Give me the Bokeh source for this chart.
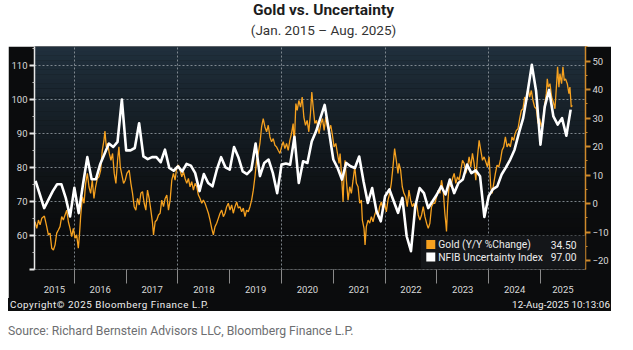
import pandas as pd
from bokeh.plotting import figure
from bokeh.models import (Range1d, LinearAxis, FixedTicker, Grid, BoxAnnotation,
                          CustomJSTickFormatter, Label, Div)
from bokeh.layouts import column
from bokeh.embed import file_html
from bokeh.resources import INLINE

# ---------------- data ----------------
# NFIB Uncertainty Index, monthly (plotted at month end), Mar 2015 .. Jul 2025
nfib_months = [str(p) for p in pd.period_range("2015-03", "2025-07", freq="M")]
nfib_index = [
    76, 72, 68, 70.5, 73, 75, 75, 71, 65.5, 74,
    66.5, 75, 83, 76.5, 76.5, 81, 84, 87, 86, 87.5, 100, 85,
    85, 85.7, 93, 83.2, 82.4, 83, 83, 81.5, 85.2, 79.8, 79, 80.3,
    78.8, 81, 80.5, 78.3, 73, 78, 75.4, 74.4, 79.3, 83, 80, 79.3,
    86, 83, 78.8, 78, 79.3, 87, 77.4, 81.3, 82.3, 78.3, 72.4, 80.8,
    81.1, 80.8, 89, 75.4, 81.8, 81.3, 87.6, 90.6, 94.5, 98.4, 90.6, 82.3,
    79.8, 76.4, 81.3, 80.3, 79.8, 83.2, 75.9, 69.5, 73.9, 67.1, 64.1, 71.5,
    73.5, 70, 66.6, 71, 59.7, 55.3, 68.5, 73.9, 72.4, 68, 70, 72,
    74.4, 72, 76.4, 72.4, 75.4, 76.4, 80.8, 78.3, 79.1, 77.4, 65.4, 71.5,
    73.6, 74.4, 77.9, 80, 82.3, 85.2, 90.1, 94.5, 102, 110.2, 102.4, 86.7,
    97.9, 102.8, 95, 92.6, 94.5, 89.3, 97,
]

# Gold, Y/Y % change (decimal-year dates)
gold_t = [
    2015.241, 2015.274, 2015.306, 2015.338, 2015.370, 2015.421, 2015.466, 2015.498, 2015.530, 2015.563,
    2015.595, 2015.627, 2015.659, 2015.691, 2015.723, 2015.755, 2015.787, 2015.820, 2015.852, 2015.884,
    2015.916, 2015.948, 2015.980, 2016.012, 2016.044, 2016.076, 2016.096, 2016.121, 2016.154, 2016.186,
    2016.218, 2016.250, 2016.282, 2016.314, 2016.346, 2016.378, 2016.410, 2016.443, 2016.475, 2016.507,
    2016.539, 2016.571, 2016.590, 2016.616, 2016.642, 2016.674, 2016.706, 2016.738, 2016.770, 2016.802,
    2016.834, 2016.860, 2016.886, 2016.918, 2016.950, 2016.982, 2017.014,
    2017.059, 2017.091, 2017.123, 2017.155, 2017.187, 2017.220, 2017.252, 2017.284, 2017.316, 2017.348,
    2017.380, 2017.412, 2017.444, 2017.477, 2017.509, 2017.528, 2017.560, 2017.592, 2017.624, 2017.656,
    2017.688, 2017.721, 2017.753, 2017.785, 2017.817, 2017.849, 2017.881, 2017.913, 2017.945, 2017.977,
    2018.010, 2018.042, 2018.074, 2018.106, 2018.138, 2018.170, 2018.202, 2018.234, 2018.266, 2018.299,
    2018.331, 2018.363, 2018.395, 2018.427, 2018.459, 2018.491, 2018.523, 2018.555, 2018.588, 2018.620,
    2018.652, 2018.684, 2018.716, 2018.748, 2018.780, 2018.813, 2018.845,
    2018.877, 2018.909, 2018.941, 2018.973,
    2019.005, 2019.037, 2019.069, 2019.102, 2019.134, 2019.166, 2019.198, 2019.230, 2019.262, 2019.294,
    2019.326, 2019.358, 2019.391, 2019.423, 2019.455, 2019.487, 2019.519, 2019.551, 2019.583, 2019.615,
    2019.647, 2019.680, 2019.712, 2019.744, 2019.776, 2019.808, 2019.840, 2019.872, 2019.904, 2019.936,
    2019.969,
    2020.001, 2020.033, 2020.065, 2020.097, 2020.129, 2020.161, 2020.193, 2020.225, 2020.245, 2020.277,
    2020.303, 2020.335, 2020.367, 2020.399, 2020.431, 2020.463, 2020.495, 2020.527, 2020.559, 2020.585,
    2020.611, 2020.643, 2020.675, 2020.707,
    2020.726, 2020.759, 2020.791, 2020.823, 2020.855, 2020.887, 2020.919, 2020.951, 2020.983,
    2021.015, 2021.048, 2021.080, 2021.112, 2021.131, 2021.157, 2021.189, 2021.208, 2021.227, 2021.253,
    2021.285, 2021.317, 2021.349, 2021.382, 2021.414, 2021.446, 2021.478, 2021.510, 2021.542, 2021.561,
    2021.593, 2021.613, 2021.638, 2021.671, 2021.703, 2021.735, 2021.767, 2021.799, 2021.831, 2021.863,
    2021.895, 2021.927, 2021.960, 2021.992,
    2022.024, 2022.056, 2022.088, 2022.120, 2022.152, 2022.184, 2022.216, 2022.249, 2022.268, 2022.300,
    2022.332, 2022.364, 2022.396, 2022.428, 2022.461, 2022.493, 2022.525, 2022.557,
    2022.576, 2022.608, 2022.640, 2022.672, 2022.705, 2022.737, 2022.769, 2022.801, 2022.833, 2022.865,
    2022.897, 2022.929, 2022.961, 2022.994,
    2023.026, 2023.058, 2023.090, 2023.122, 2023.154, 2023.173, 2023.186, 2023.206, 2023.238, 2023.270,
    2023.302, 2023.334, 2023.366, 2023.398, 2023.430, 2023.462, 2023.495, 2023.527, 2023.559, 2023.591,
    2023.623, 2023.655, 2023.687, 2023.719, 2023.752, 2023.784, 2023.816, 2023.848, 2023.880, 2023.912,
    2023.944, 2023.976,
    2024.008, 2024.040, 2024.066, 2024.098, 2024.130, 2024.162, 2024.195, 2024.227, 2024.259, 2024.291,
    2024.323, 2024.355, 2024.387, 2024.419, 2024.451, 2024.484, 2024.503,
    2024.535, 2024.567, 2024.599, 2024.631, 2024.663, 2024.695, 2024.728, 2024.760, 2024.792, 2024.824,
    2024.856, 2024.888, 2024.920, 2024.952, 2024.984,
    2025.017, 2025.049, 2025.081, 2025.113, 2025.132, 2025.152, 2025.184, 2025.216, 2025.248, 2025.280,
    2025.312, 2025.331, 2025.357, 2025.376, 2025.408, 2025.434, 2025.460, 2025.485, 2025.518, 2025.550,
    2025.569, 2025.595, 2025.614,
]
gold_yoy = [
    -6.4, -8.7, -5.8, -7.5, -5.2, -4.4, -8.1, -11.0, -10.4, -15.7,
    -16.3, -14.5, -10.4, -9.3, -8.1, -4.6, -5.8, -4.0, -2.3, -6.4,
    -8.7, -11.6, -8.7, -12.2, -11.0, -15.7, -11.6, -4.6, 2.4, 0.1,
    7.1, 10.6, 5.9, 3.6, 8.2, 1.8, 5.9, 8.8, 9.4, 11.7,
    18.7, 22.2, 25.5, 19.9, 21.1, 17.6, 15.2, 17.6, 10.6, 7.1,
    15.2, 19.9, 12.9, 10.0, 7.1, 8.2, 10.6,
    11.7, 7.1, 3.6, -1.1, -2.3, 1.8, -0.5, 3.6, 4.2, 0.1,
    -2.3, 4.7, 1.8, -2.3, -6.9, -11.0, -6.4, -5.8, -4.0, -3.4,
    1.2, -1.1, 1.8, 3.0, -2.3, 1.2, 8.2, 10.6, 8.2, 12.9,
    13.5, 11.7, 9.4, 11.2, 8.8, 7.1, 8.8, 5.9, 7.7, 4.7,
    7.1, 5.9, 3.0, 1.8, 0.1, 1.2, 0.1, -1.6, -3.4, -5.8,
    -8.7, -11.0, -8.1, -6.9, -5.2, -3.4, -2.3,
    -4.6, -3.4, -1.1, 0.1,
    -2.3, -0.5, -3.4, -1.1, 0.6, -1.6, -1.1, -2.9, -1.6, -4.6,
    -2.3, -2.9, -1.1, 1.2, 4.7, 9.4, 15.2, 17.6, 21.1, 26.9,
    29.8, 26.9, 25.2, 27.5, 23.4, 21.7, 22.8, 20.5, 19.9, 18.7,
    17.6,
    19.9, 21.7, 19.3, 21.1, 18.7, 22.2, 24.6, 28.1, 19.9, 35.1,
    32.7, 36.2, 33.9, 37.4, 30.4, 27.5, 29.2, 25.2, 31.6, 39.2,
    33.9, 28.1, 29.2, 26.3,
    24.6, 28.1, 29.8, 25.7, 30.4, 26.9, 25.7, 27.5, 24.0,
    19.9, 21.1, 17.6, 14.1, 17.6, 10.6, 0.6, 10.6, 15.2, 8.2,
    1.2, 5.9, 3.6, 8.2, 12.9, 7.1, 5.9, 0.1, 1.2, -5.8,
    -8.7, -14.5, -8.1, -5.8, -6.9, -4.6, -6.4, -4.0, -2.3, -4.6,
    -1.1, 0.6, -2.3, 0.1,
    -2.9, 1.2, 3.6, 7.1, 12.9, 19.3, 15.2, 10.6, 14.1, 11.7,
    5.9, 3.6, 2.4, -1.1, 4.7, 1.2, -1.1, 0.1,
    -2.3, 0.1, -4.0, -5.8, -4.0, -1.1, -4.6, -6.9, -8.7, -6.9,
    -1.1, 0.1, 0.1, 2.4,
    4.7, 3.6, 8.2, 4.7, -3.4, -6.9, -9.8, -1.1, 7.1, 5.9,
    8.8, 10.6, 7.1, 9.4, 8.2, 11.7, 15.2, 14.1, 10.6, 12.9,
    16.4, 12.9, 17.6, 14.1, 8.2, 16.4, 22.2, 18.7, 15.2, 16.4,
    14.7, 12.9,
    16.4, 5.9, 3.6, 7.1, 10.6, 13.5, 12.9, 15.2, 18.7, 19.9,
    23.4, 19.9, 21.1, 19.9, 23.4, 22.2, 24.0,
    25.7, 26.3, 29.8, 32.7, 33.3, 37.4, 35.7, 40.9, 37.4, 39.7,
    36.2, 33.9, 33.3, 28.1, 29.8,
    26.9, 29.2, 34.5, 38.6, 43.8, 40.9, 42.1, 37.4, 35.7, 33.3,
    42.1, 48.0, 40.9, 45.6, 42.1, 48.0, 43.2, 43.8, 42.1, 38.6,
    40.9, 33.9, 34.5,
]

year_ticks = list(range(2016, 2026))
left_ticks = [50, 60, 70, 80, 90, 100, 110]
right_ticks = [-20, -10, 0, 10, 20, 30, 40, 50]
series_names = ["Gold (Y/Y %Change)", "NFIB Uncertainty Index"]

assert len(nfib_months) == len(nfib_index)
assert len(gold_t) == len(gold_yoy)

# ---------------- styling / layout constants ----------------
FONT = "Roboto"
PANEL = "#0b0c0d"
ORANGE = "#f6a11f"
ORANGE_AX = "#cf8a2c"
LABEL_C = "#dadada"
X0, X1 = 2015.23, 2025.87
YL0, YL1 = 49.9, 115.6
YR0, YR1 = -23.16, 55.16

nfib_x = [int(m[:4]) + int(m[5:7]) / 12.0 for m in nfib_months]

p = figure(width=603, height=252, output_backend="svg", toolbar_location=None,
           x_range=Range1d(X0, X1), y_range=Range1d(YL0, YL1),
           x_axis_location=None, y_axis_location=None,
           min_border_left=25, min_border_right=26, min_border_top=0,
           min_border_bottom=29, border_fill_color=PANEL,
           background_fill_color=PANEL, outline_line_color=None,
           margin=(0, 0, 0, 8))
p.xgrid.visible = False
p.ygrid.visible = False
p.extra_y_ranges = {"right": Range1d(YR0, YR1)}

# gradient background of plotting area (bands)
top_c = (32, 48, 61)
bot_c = (10, 11, 12)
N = 48
for i in range(N):
    f0 = i / N
    f1 = (i + 1) / N
    fm = (f0 + f1) / 2  # 0 bottom, 1 top
    w = min(1.0, max(0.0, (fm - 0.15) / 0.85)) ** 1.3
    c = tuple(int(round(bot_c[k] + (top_c[k] - bot_c[k]) * w)) for k in range(3))
    p.add_layout(BoxAnnotation(bottom=YL0 + (YL1 - YL0) * f0,
                               top=YL0 + (YL1 - YL0) * f1 + 0.05,
                               fill_color="#%02x%02x%02x" % c, fill_alpha=1.0,
                               line_color=None, level="underlay"))

grid_kw = dict(grid_line_color="#8f989f", grid_line_dash="2 2",
               grid_line_alpha=0.85, grid_line_width=1)
p.add_layout(Grid(dimension=1, ticker=FixedTicker(ticks=left_ticks), **grid_kw))
p.add_layout(Grid(dimension=0, ticker=FixedTicker(ticks=year_ticks[::2]), **grid_kw))

# axes
yl = LinearAxis(ticker=FixedTicker(ticks=left_ticks,
                                   minor_ticks=[55, 65, 75, 85, 95, 105, 115]),
                axis_line_color="#e8e8e8", axis_line_width=1.5,
                major_tick_line_color="#e8e8e8", major_tick_line_width=2,
                major_tick_in=0, major_tick_out=5,
                minor_tick_line_color="#bdbdbd", minor_tick_in=0, minor_tick_out=2,
                major_label_text_color=LABEL_C, major_label_text_font=FONT,
                major_label_text_font_size="9.5px", major_label_standoff=2,
                major_label_overrides={50: ""})
p.add_layout(yl, "left")

yr = LinearAxis(y_range_name="right",
                ticker=FixedTicker(ticks=right_ticks,
                                   minor_ticks=[-15, -5, 5, 15, 25, 35, 45, 55]),
                axis_line_color=ORANGE_AX, axis_line_width=1.5,
                major_tick_line_color=ORANGE_AX, major_tick_line_width=2,
                major_tick_in=0, major_tick_out=5,
                minor_tick_line_color=ORANGE_AX, minor_tick_in=0, minor_tick_out=2,
                major_label_text_color=LABEL_C, major_label_text_font=FONT,
                major_label_text_font_size="9.5px", major_label_standoff=2)
p.add_layout(yr, "right")

xa = LinearAxis(ticker=FixedTicker(ticks=year_ticks), axis_line_color=None,
                major_tick_line_color="#8a8a8a", major_tick_in=0, major_tick_out=14,
                minor_tick_line_color=None,
                formatter=CustomJSTickFormatter(code="return ''"),
                major_label_text_font_size="0px", major_label_standoff=0)
p.add_layout(xa, "below")

mids = [round((X0 + year_ticks[0]) / 2, 3)] + [y + 0.5 for y in year_ticks[:-1]] + \
       [round((year_ticks[-1] + X1) / 2, 3)]
xb = LinearAxis(ticker=FixedTicker(ticks=mids), axis_line_color=None,
                major_tick_line_color=None, major_tick_in=0, major_tick_out=0,
                minor_tick_line_color=None,
                formatter=CustomJSTickFormatter(code="return Math.floor(tick).toString()"),
                major_label_text_color=LABEL_C, major_label_text_font=FONT,
                major_label_text_font_size="9.5px", major_label_standoff=2)
p.add_layout(xb, "below")

# series
p.line(gold_t, gold_yoy, y_range_name="right", line_color=ORANGE, line_width=1.3)
p.line(nfib_x, nfib_index, line_color="#ffffff", line_width=2.6, line_join="round")

# legend (manual, with last values)
ppx = (X1 - X0) / 552.0          # years per pixel
ppy = (YL1 - YL0) / 223.0        # left units per pixel
leg_left = X1 - 165 * ppx
leg_top = YL0 + 34 * ppy
leg_bot = YL0 + 1 * ppy
p.add_layout(BoxAnnotation(left=leg_left, right=X1, bottom=leg_bot, top=leg_top,
                           fill_color="#141619", fill_alpha=1.0, line_color=None,
                           level="guide"))
row_y = [YL0 + 25 * ppy, YL0 + 12.5 * ppy]
sw_colors = [ORANGE, "#ffffff"]
last_vals = [gold_yoy[-1], nfib_index[-1]]
for i in range(2):
    cx = leg_left + 10 * ppx
    p.add_layout(BoxAnnotation(left=cx - 4.5 * ppx, right=cx + 4.5 * ppx,
                               bottom=row_y[i] - 4.5 * ppy, top=row_y[i] + 4.5 * ppy,
                               fill_color=sw_colors[i], fill_alpha=1.0,
                               line_color=None, level="annotation"))
    p.add_layout(Label(x=leg_left + 17.5 * ppx, y=row_y[i], text=series_names[i],
                       text_font=FONT, text_font_size="10.3px", text_color="#ececec",
                       text_baseline="middle", text_align="left"))
    p.add_layout(Label(x=X1 - 9 * ppx, y=row_y[i], text="%.2f" % last_vals[i],
                       text_font=FONT, text_font_size="10.3px", text_color="#ececec",
                       text_baseline="middle", text_align="right"))

title_div = Div(width=633, height=46, margin=(0, 0, 0, 0), text=(
    '<div style="position:relative;width:633px;height:46px;font-family:Roboto,sans-serif;">'
    '<div style="position:absolute;left:0;top:1px;width:647px;text-align:center;'
    'font-weight:bold;font-size:15.5px;line-height:18px;color:#1d1d1d;">Gold vs. Uncertainty</div>'
    '<div style="position:absolute;left:0;top:22px;width:647px;text-align:center;'
    'font-size:13.5px;line-height:16px;color:#333333;">(Jan. 2015 \u2013 Aug. 2025)</div>'
    '</div>'))

copy_div = Div(width=603, height=13, margin=(0, 0, 0, 8), text=(
    '<div style="position:relative;width:603px;height:13px;background:%s;color:#f0f0f0;'
    'font-family:Roboto,sans-serif;font-size:9.8px;line-height:13px;">'
    '<span style="position:absolute;left:2px;top:0;letter-spacing:0.55px;">'
    'Copyright\u00a9 2025 Bloomberg Finance L.P.</span>'
    '<span style="position:absolute;right:1px;top:0;letter-spacing:0.1px;">12-Aug-2025 10:13:06</span>'
    '</div>' % PANEL))

src_div = Div(width=633, height=39, margin=(0, 0, 0, 0), text=(
    '<div style="width:633px;height:39px;box-sizing:border-box;padding:13px 0 0 8px;'
    'font-family:Roboto,sans-serif;font-size:12.2px;line-height:14px;color:#6d6e71;">'
    'Source: Richard Bernstein Advisors LLC, Bloomberg Finance L.P.</div>'))

layout = column(title_div, p, copy_div, src_div, spacing=0)

open("out.html", "w").write(file_html(layout, INLINE))
